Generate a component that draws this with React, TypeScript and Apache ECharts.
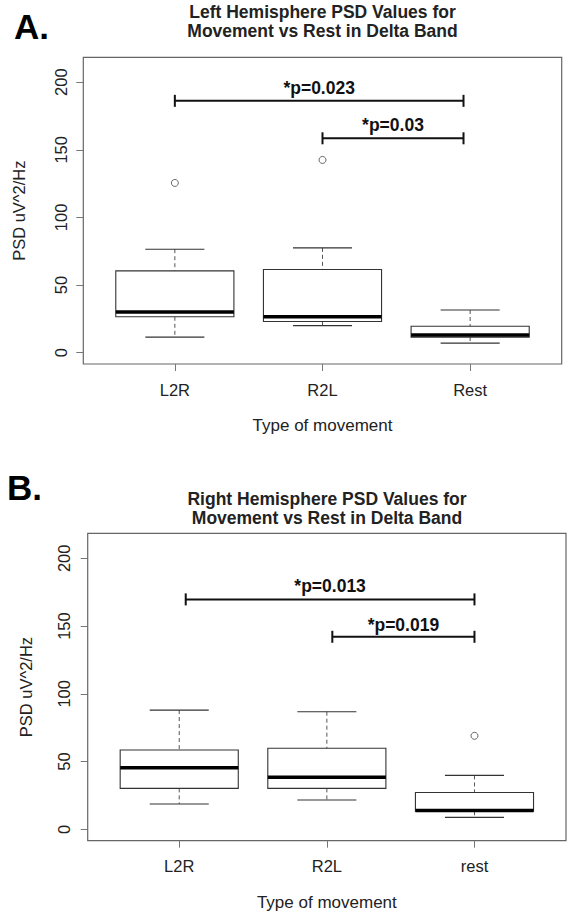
import React, { useEffect, useRef } from 'react';
import * as echarts from 'echarts';

// ---------- data ----------
const categoriesA = ['L2R', 'R2L', 'Rest'];
const categoriesB = ['L2R', 'R2L', 'rest'];
const yTicks = [0, 50, 100, 150, 200];
const xTicks = [1, 2, 3];
// [lower whisker, Q1, median, Q3, upper whisker]
const boxesA = [
  [11.5, 26.5, 30, 60.5, 76.5],
  [20, 23, 26.5, 61.5, 77.5],
  [7, 11.5, 13, 19.5, 31.5],
];
const outliersA = [
  [1, 125.5],
  [2, 142.5],
];
const boxesB = [
  [18.7, 30.2, 45.5, 58.5, 88],
  [21.6, 30.2, 38.4, 59.8, 86.8],
  [8.8, 13.3, 13.8, 27.2, 39.8],
];
const outliersB = [[3, 69]];
// significance brackets: [x start, x end, bracket value, label value]
const bracketsA = [
  [1, 2.955, 186.2, 196],
  [2, 2.955, 158.5, 168],
];
const bracketLabelsA = ['*p=0.023', '*p=0.03'];
const bracketsB = [
  [1.044, 3, 169.7, 179.5],
  [2.037, 3, 142.1, 150.8],
];
const bracketLabelsB = ['*p=0.013', '*p=0.019'];

const titleA = ['Left Hemisphere PSD Values for', 'Movement vs Rest in Delta Band'];
const titleB = ['Right Hemisphere PSD Values for', 'Movement vs Rest in Delta Band'];
const yName = 'PSD uV^2/Hz';
const xName = 'Type of movement';

// ---------- style ----------
const FONT = '"Liberation Sans", Arial, Helvetica, sans-serif';
const BOX_WEX = 0.8;
const TEXT = '#222';
const FRAME = '#666';

const boxRender = (params: any, api: any) => {
  const x = api.value(0);
  const lw = api.value(1);
  const q1 = api.value(2);
  const md = api.value(3);
  const q3 = api.value(4);
  const uw = api.value(5);
  const c = (v: number) => api.coord([x, v]);
  const w = api.size([BOX_WEX, 0])[0];
  const hw = w / 2;
  const hs = w / 4;
  const [cx, yLw] = c(lw);
  const yQ1 = c(q1)[1];
  const yMd = c(md)[1];
  const yQ3 = c(q3)[1];
  const yUw = c(uw)[1];
  const dash = { stroke: '#555', lineWidth: 1, lineDash: [4, 3], fill: null };
  const solid = { stroke: '#333', lineWidth: 1.1, fill: null };
  return {
    type: 'group',
    children: [
      { type: 'line', shape: { x1: cx, y1: yUw, x2: cx, y2: yQ3 }, style: dash },
      { type: 'line', shape: { x1: cx, y1: yQ1, x2: cx, y2: yLw }, style: dash },
      { type: 'line', shape: { x1: cx - hs, y1: yUw, x2: cx + hs, y2: yUw }, style: solid },
      { type: 'line', shape: { x1: cx - hs, y1: yLw, x2: cx + hs, y2: yLw }, style: solid },
      {
        type: 'rect',
        shape: { x: cx - hw, y: yQ3, width: w, height: yQ1 - yQ3 },
        style: { fill: '#fff', stroke: '#333', lineWidth: 1.1 },
      },
      {
        type: 'line',
        shape: { x1: cx - hw, y1: yMd, x2: cx + hw, y2: yMd },
        style: { stroke: '#000', lineWidth: 3.5, fill: null },
      },
    ],
  };
};

const bracketRender = (labels: string[]) => (params: any, api: any) => {
  const x1 = api.value(0);
  const x2 = api.value(1);
  const y = api.value(2);
  const ly = api.value(3);
  const p1 = api.coord([x1, y]);
  const p2 = api.coord([x2, y]);
  const pl = api.coord([(x1 + x2) / 2, ly]);
  const st = { stroke: '#111', lineWidth: 2, fill: null };
  const t = 6;
  const text = labels[params.dataIndex];
  return {
    type: 'group',
    children: [
      { type: 'line', shape: { x1: p1[0], y1: p1[1], x2: p2[0], y2: p2[1] }, style: st },
      { type: 'line', shape: { x1: p1[0], y1: p1[1] - t, x2: p1[0], y2: p1[1] + t }, style: st },
      { type: 'line', shape: { x1: p2[0], y1: p2[1] - t, x2: p2[0], y2: p2[1] + t }, style: st },
      {
        type: 'text',
        style: {
          text,
          x: pl[0],
          y: pl[1],
          align: 'center',
          textAlign: 'center',
          verticalAlign: 'middle',
          textVerticalAlign: 'middle',
          fontSize: 17.5,
          fontWeight: 'bold',
          fontFamily: FONT,
          fill: '#111',
        },
      },
    ],
  };
};

const makeXAxis = (gridIndex: number, cats: string[]) => ({
  type: 'value',
  gridIndex,
  min: 0.38,
  max: 3.62,
  axisLine: { show: false, onZero: false },
  axisTick: { show: true, customValues: xTicks, length: 7, lineStyle: { color: '#777', width: 1 } },
  axisLabel: {
    show: true,
    customValues: xTicks,
    margin: 17,
    fontSize: 16.5,
    fontFamily: FONT,
    color: TEXT,
    formatter: (v: number) => cats[Math.round(v) - 1] ?? '',
  },
  splitLine: { show: false },
  name: xName,
  nameLocation: 'middle',
  nameGap: 53,
  nameTextStyle: { fontSize: 17, fontFamily: FONT, color: TEXT },
});

const makeYAxis = (gridIndex: number, nameGap: number, margin: number) => ({
  type: 'value',
  gridIndex,
  min: -8.4,
  max: 218.4,
  axisLine: { show: false, onZero: false },
  axisTick: { show: true, customValues: yTicks, length: 7, lineStyle: { color: '#777', width: 1 } },
  axisLabel: {
    show: true,
    customValues: yTicks,
    rotate: 90,
    margin,
    fontSize: 16.5,
    fontFamily: FONT,
    color: TEXT,
  },
  splitLine: { show: false },
  name: yName,
  nameLocation: 'middle',
  nameGap,
  nameRotate: 90,
  nameTextStyle: { fontSize: 16.5, fontFamily: FONT, color: TEXT },
});

const titleText = (txt: string, x: number, y: number) => ({
  type: 'text',
  x,
  y,
  style: {
    text: txt,
    align: 'center',
    textAlign: 'center',
    verticalAlign: 'middle',
    textVerticalAlign: 'middle',
    fontSize: 17.5,
    fontWeight: 'bold',
    fontFamily: FONT,
    fill: TEXT,
  },
});

const panelLetter = (txt: string, x: number, y: number) => ({
  type: 'text',
  x,
  y,
  style: {
    text: txt,
    align: 'left',
    textAlign: 'left',
    verticalAlign: 'middle',
    textVerticalAlign: 'middle',
    fontSize: 35,
    fontWeight: 'bold',
    fontFamily: FONT,
    fill: '#000',
  },
});

export default function App() {
  const ref = useRef<HTMLDivElement>(null);
  useEffect(() => {
    if (!ref.current) return;
    const chart = echarts.init(ref.current, undefined, { renderer: 'svg' });
    const gridStyle = { show: true, borderColor: FRAME, borderWidth: 1.2, backgroundColor: 'transparent' };
    chart.setOption({
      animation: false,
      backgroundColor: '#fff',
      grid: [
        { left: 83.3, top: 57.3, width: 478.4, height: 306.7, ...gridStyle },
        { left: 87.7, top: 533.4, width: 478.3, height: 307.3, ...gridStyle },
      ],
      xAxis: [makeXAxis(0, categoriesA), makeXAxis(1, categoriesB)],
      yAxis: [makeYAxis(0, 56, 14), makeYAxis(1, 53, 15)],
      graphic: [
        panelLetter('A.', 14, 26.5),
        titleText(titleA[0], 322.5, 12),
        titleText(titleA[1], 322.5, 30.5),
        panelLetter('B.', 7, 487),
        titleText(titleB[0], 327, 499),
        titleText(titleB[1], 327, 518),
      ],
      series: [
        {
          type: 'custom',
          xAxisIndex: 0,
          yAxisIndex: 0,
          renderItem: boxRender,
          encode: { x: 0, y: [1, 2, 3, 4, 5] },
          data: boxesA.map((b, i) => [i + 1, ...b]),
          z: 2,
        },
        {
          type: 'scatter',
          xAxisIndex: 0,
          yAxisIndex: 0,
          data: outliersA,
          symbol: 'circle',
          symbolSize: 7,
          itemStyle: { color: 'rgba(255,255,255,0)', borderColor: '#444', borderWidth: 1 },
          z: 3,
        },
        {
          type: 'custom',
          xAxisIndex: 0,
          yAxisIndex: 0,
          renderItem: bracketRender(bracketLabelsA),
          encode: { x: [0, 1], y: [2, 3] },
          data: bracketsA,
          z: 4,
        },
        {
          type: 'custom',
          xAxisIndex: 1,
          yAxisIndex: 1,
          renderItem: boxRender,
          encode: { x: 0, y: [1, 2, 3, 4, 5] },
          data: boxesB.map((b, i) => [i + 1, ...b]),
          z: 2,
        },
        {
          type: 'scatter',
          xAxisIndex: 1,
          yAxisIndex: 1,
          data: outliersB,
          symbol: 'circle',
          symbolSize: 7,
          itemStyle: { color: 'rgba(255,255,255,0)', borderColor: '#444', borderWidth: 1 },
          z: 3,
        },
        {
          type: 'custom',
          xAxisIndex: 1,
          yAxisIndex: 1,
          renderItem: bracketRender(bracketLabelsB),
          encode: { x: [0, 1], y: [2, 3] },
          data: bracketsB,
          z: 4,
        },
      ],
    });
    return () => chart.dispose();
  }, []);
  return (
    <div
      ref={ref}
      style={{ position: 'absolute', left: 0, top: 0, width: 570, height: 917 }}
    />
  );
}
